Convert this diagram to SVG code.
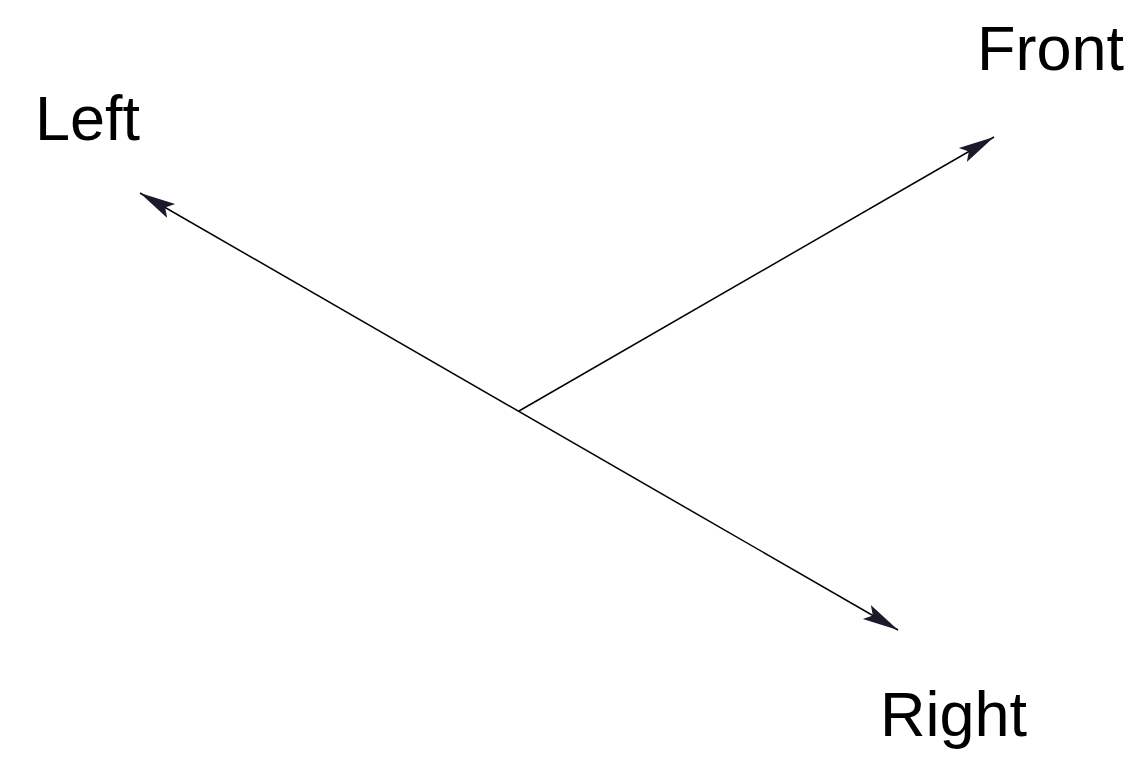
<svg xmlns="http://www.w3.org/2000/svg" width="1148" height="761" viewBox="0 0 1148 761">
<style>
.ax{stroke:#000;stroke-width:1.5;fill:none}
.lbl{font-family:"Liberation Sans",Arial,sans-serif;font-size:63px;fill:#000}
</style>
<defs>
<marker id="arr" markerUnits="userSpaceOnUse" markerWidth="40" markerHeight="20" viewBox="0 -10 40 20" refX="36" refY="0" orient="auto-start-reverse">
<path d="M36,0 L0,-8 L7,0 L0,8 Z" fill="#1a1a2a"/>
</marker>
</defs>
<rect width="1148" height="761" fill="#fff"/>
<g id="connectors">
<path id="left-right" class="ax" d="M140,193 L898,630" marker-start="url(#arr)" marker-end="url(#arr)"/>
<path id="front" class="ax" d="M519,411 L994,137" marker-end="url(#arr)"/>
</g>
<g id="label-left"><text class="lbl" x="35" y="140">Left</text></g>
<g id="label-front"><text class="lbl" x="977" y="70">Front</text></g>
<g id="label-right"><text class="lbl" x="880" y="736">Right</text></g>
</svg>
